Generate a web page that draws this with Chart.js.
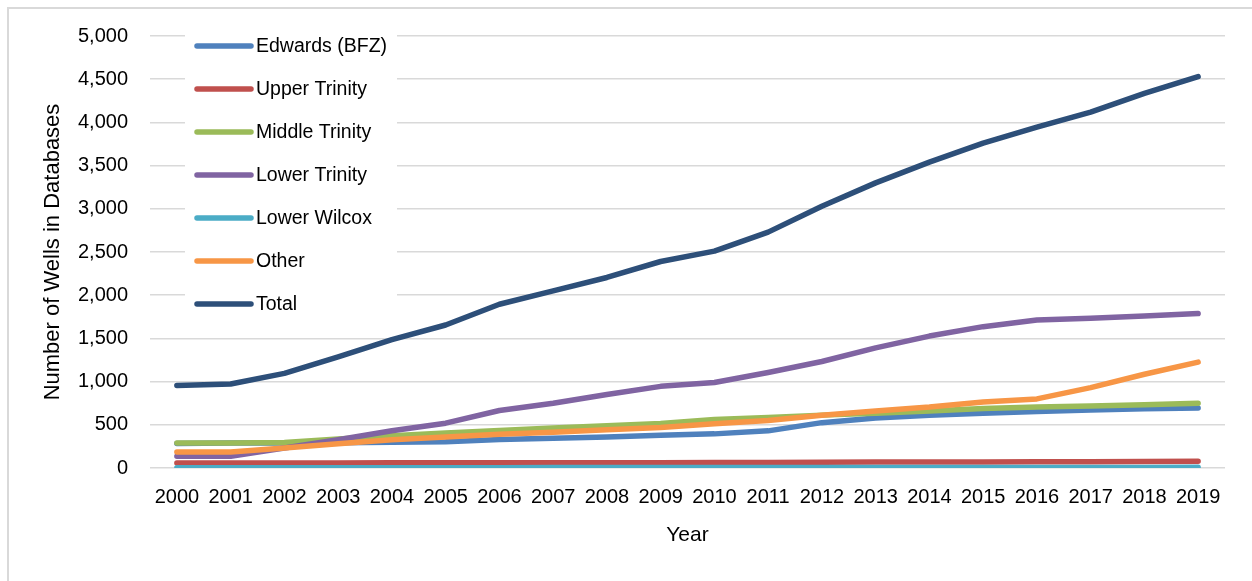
<!DOCTYPE html>
<html>
<head>
<meta charset="utf-8">
<script src="https://cdn.jsdelivr.net/npm/chart.js@4/dist/chart.umd.min.js"></script>
<style>
  html, body { margin: 0; padding: 0; background: #fff; }
  #wrap { position: relative; width: 1252px; height: 581px; }
</style>
</head>
<body>
<div id="wrap"><canvas id="wellsChart" width="1252" height="581"></canvas></div>
<script>
var years = ['2000','2001','2002','2003','2004','2005','2006','2007','2008','2009',
             '2010','2011','2012','2013','2014','2015','2016','2017','2018','2019'];

var seriesNames = ['Edwards (BFZ)', 'Upper Trinity', 'Middle Trinity', 'Lower Trinity', 'Lower Wilcox', 'Other', 'Total'];
var seriesColors = ['#4f81bd', '#c0504d', '#9bbb59', '#8064a2', '#4bacc6', '#f79646', '#2d4f79'];

var edwards      = [285, 288, 290, 293, 297, 305, 330, 345, 360, 380, 395, 430, 525, 580, 610, 635, 655, 672, 685, 695];
var upperTrinity = [58, 58, 58, 59, 60, 60, 60, 60, 61, 62, 64, 65, 66, 68, 70, 70, 72, 73, 75, 77];
var midTrinity   = [288, 288, 296, 335, 373, 404, 435, 462, 488, 515, 560, 585, 612, 635, 660, 690, 705, 717, 733, 748];
var lowTrinity   = [135, 135, 231, 327, 431, 519, 665, 750, 850, 945, 990, 1105, 1233, 1391, 1527, 1636, 1713, 1732, 1760, 1787];
var lowerWilcox  = [3, 3, 3, 4, 4, 4, 4, 5, 5, 5, 5, 5, 5, 6, 6, 6, 6, 7, 7, 8];
var other        = [185, 185, 231, 281, 327, 358, 392, 415, 442, 469, 512, 550, 610, 660, 705, 765, 800, 930, 1085, 1225];
var total        = [955, 973, 1095, 1285, 1485, 1655, 1895, 2050, 2205, 2390, 2510, 2730, 3030, 3300, 3540, 3760, 3945, 4120, 4335, 4530];

var yTicks = [0, 500, 1000, 1500, 2000, 2500, 3000, 3500, 4000, 4500, 5000];

var fontFamily = "'Liberation Sans Narrow', 'Arial Narrow', 'Liberation Sans', Arial, sans-serif";
var allSeries = [edwards, upperTrinity, midTrinity, lowTrinity, lowerWilcox, other, total];

// later series sit on top of earlier ones
var datasets = allSeries.map(function (vals, i) {
    return {
        label: seriesNames[i],
        data: vals,
        borderColor: seriesColors[i],
        backgroundColor: seriesColors[i],
        borderWidth: 5.5,
        borderCapStyle: 'round',
        borderJoinStyle: 'round',
        pointRadius: 0,
        tension: 0,
        fill: false,
        order: allSeries.length - i
    };
});

// outer frame of the chart
var framePlugin = {
    id: 'frame',
    beforeDraw: function (chart) {
        var ctx = chart.ctx;
        ctx.save();
        ctx.fillStyle = '#fff';
        ctx.fillRect(0, 0, chart.width, chart.height);
        ctx.strokeStyle = '#d9d9d9';
        ctx.lineWidth = 2;
        ctx.strokeRect(8, 8, chart.width + 20, chart.height + 20);
        ctx.restore();
    }
};

// legend box in the upper-left of the plot
var boxLegend = {
    id: 'boxLegend',
    afterDatasetsDraw: function (chart) {
        var ctx = chart.ctx;
        var top = 46, step = 43, x0 = 197, x1 = 251;
        ctx.save();
        ctx.fillStyle = '#fff';
        ctx.fillRect(185, 28, 212, 294);
        ctx.font = '19.5px ' + fontFamily;
        ctx.textBaseline = 'middle';
        ctx.textAlign = 'left';
        chart.data.datasets.forEach(function (ds, i) {
            var y = top + i * step;
            ctx.strokeStyle = ds.borderColor;
            ctx.lineWidth = 5.5;
            ctx.lineCap = 'round';
            ctx.beginPath();
            ctx.moveTo(x0, y);
            ctx.lineTo(x1, y);
            ctx.stroke();
            ctx.fillStyle = '#000';
            ctx.fillText(ds.label, 256, y + 1);
        });
        ctx.restore();
    }
};

new Chart(document.getElementById('wellsChart'), {
    type: 'line',
    data: { labels: years, datasets: datasets },
    options: {
        responsive: false,
        animation: false,
        events: [],
        layout: { padding: { top: 36, right: 27, bottom: 0, left: 0 } },
        plugins: {
            legend: { display: false },
            tooltip: { enabled: false }
        },
        scales: {
            x: {
                offset: true,
                grid: { display: false, drawTicks: false },
                border: { display: false },
                ticks: {
                    color: '#000',
                    padding: 17,
                    maxRotation: 0,
                    autoSkip: false,
                    font: { family: fontFamily, size: 20 }
                },
                title: {
                    display: true,
                    text: 'Year',
                    color: '#000',
                    font: { family: fontFamily, size: 21 },
                    padding: { top: 0, bottom: 33 }
                },
                afterFit: function (scale) { scale.height = 113; }
            },
            y: {
                min: 0,
                max: 5000,
                afterBuildTicks: function (scale) {
                    scale.ticks = yTicks.map(function (v) { return { value: v }; });
                },
                grid: { color: '#d9d9d9', lineWidth: 1.5, drawTicks: false },
                border: { display: false },
                ticks: {
                    color: '#000',
                    padding: 22,
                    font: { family: fontFamily, size: 20 },
                    callback: function (v) { return Number(v).toLocaleString('en-US'); }
                },
                title: {
                    display: true,
                    text: 'Number of Wells in Databases',
                    color: '#000',
                    font: { family: fontFamily, size: 22 },
                    padding: { top: 40, bottom: 0 }
                },
                afterFit: function (scale) { scale.width = 150; }
            }
        }
    },
    plugins: [framePlugin, boxLegend]
});
</script>
</body>
</html>
